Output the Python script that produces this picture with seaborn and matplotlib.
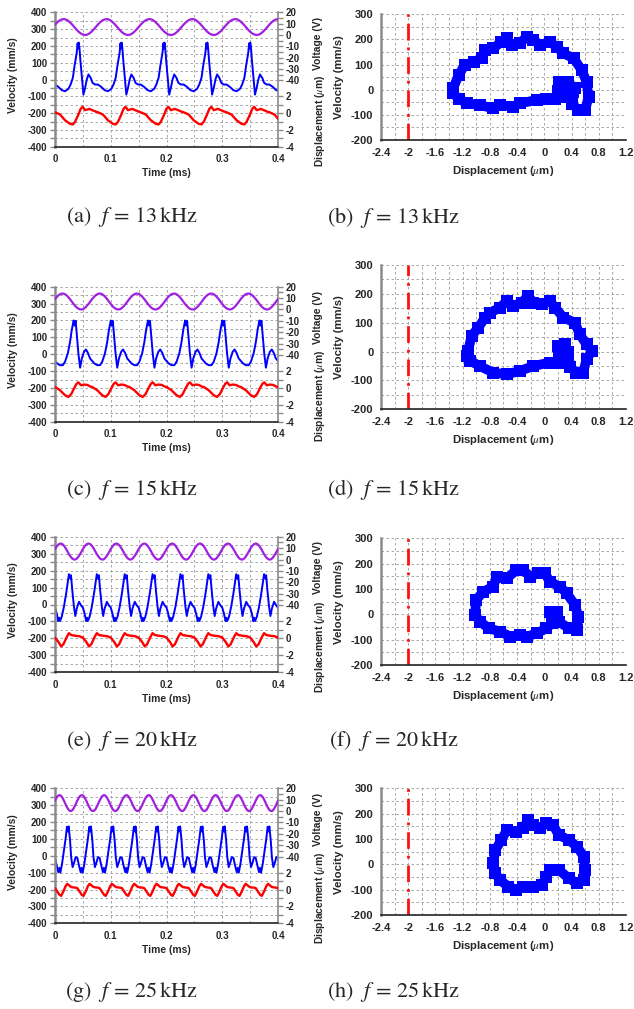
import numpy as np
import matplotlib
matplotlib.use("Agg")
import matplotlib.pyplot as plt
import seaborn as sns
from matplotlib.ticker import MultipleLocator, FixedLocator, FuncFormatter

sns.set_style("white")
plt.rcParams["font.family"] = ["Liberation Sans", "DejaVu Sans"]
plt.rcParams["font.weight"] = "bold"
plt.rcParams["axes.labelweight"] = "bold"
plt.rcParams["axes.unicode_minus"] = False
plt.rcParams["mathtext.fontset"] = "custom"
plt.rcParams["mathtext.rm"] = "STIXGeneral:weight=normal"
plt.rcParams["mathtext.it"] = "STIXGeneral:italic:weight=normal"
plt.rcParams["mathtext.bf"] = "STIXGeneral:weight=bold"

# ---------------- data ----------------
freqs_khz = [13, 15, 20, 25]
panel_letters = [("a", "b"), ("c", "d"), ("e", "f"), ("g", "h")]

# drive voltage over one period (24 equally spaced phase samples), V
volt_cycle = [9.2, 10.8, 12.2, 13.2, 13.8, 14.0, 13.7, 12.9, 11.7, 10.2, 8.5, 6.6,
              4.8, 3.2, 1.8, 0.8, 0.2, 0.0, 0.3, 1.1, 2.3, 3.8, 5.5, 7.4]

# velocity over one period: time (ms) within period, value (mm/s)
vel13_t = [0, 0.006, 0.012, 0.018, 0.024, 0.028, 0.032, 0.035, 0.039, 0.0405, 0.0415,
           0.0425, 0.0437, 0.0454, 0.048, 0.051, 0.054, 0.057, 0.060, 0.064, 0.0675, 0.072]
vel13_v = [-30, -44, -63, -70, -56, -30, 10, 80, 160, 215, 185, 220, 195, 120, 20, -90,
           -50, 0, 30, 10, -20, -30]
vel15_t = [0, 0.004, 0.009, 0.014, 0.018, 0.023, 0.027, 0.030, 0.0334, 0.035, 0.037,
           0.039, 0.042, 0.045, 0.048, 0.052, 0.0555, 0.059, 0.063]
vel15_v = [-40, -55, -65, -65, -45, 5, 73, 142, 200, 170, 198, 122, 4, -80, -26, 14,
           28, 8, -26]
vel20_t = [0, 0.003, 0.006, 0.0075, 0.009, 0.012, 0.016, 0.020, 0.023, 0.025, 0.0275,
           0.0287, 0.031, 0.034, 0.0364, 0.039, 0.043, 0.0466]
vel20_v = [-18, -53, -98, -78, -97, -73, -14, 65, 134, 179, 153, 173, 84, -14, -68,
           -24, 16, -5]
vel25_t = [0, 0.003, 0.006, 0.0078, 0.0096, 0.0125, 0.016, 0.019, 0.0215, 0.0233,
           0.0245, 0.027, 0.029, 0.0316, 0.0346, 0.037]
vel25_v = [-12, -57, -97, -71, -100, -51, 32, 101, 172, 144, 174, 91, -8, -67, -38, -8]

# displacement over one period: time (ms), value (um)
disp13_t = [0, 0.009, 0.018, 0.027, 0.032, 0.036, 0.042, 0.046, 0.0496, 0.054, 0.058,
            0.0615, 0.0687, 0.074]
disp13_v = [0.1, -0.17, -0.85, -1.28, -1.35, -1.04, -0.17, 0.5, 0.75, 0.35, 0.43, 0.5,
            0.3, 0.15]
disp15_t = [0, 0.009, 0.018, 0.024, 0.029, 0.034, 0.039, 0.042, 0.0466, 0.052, 0.058, 0.064]
disp15_v = [0.12, -0.27, -0.86, -1.06, -0.74, -0.07, 0.52, 0.66, 0.32, 0.4, 0.36, 0.15]
disp20_t = [0, 0.006, 0.011, 0.015, 0.021, 0.025, 0.029, 0.033, 0.038, 0.044]
disp20_v = [0.1, -0.4, -0.95, -0.7, 0.15, 0.62, 0.4, 0.35, 0.3, 0.25]
disp25_t = [0, 0.004, 0.008, 0.011, 0.015, 0.019, 0.022, 0.0257, 0.029, 0.033, 0.037]
disp25_v = [0.17, -0.23, -0.62, -0.75, -0.23, 0.4, 0.68, 0.48, 0.3, 0.25, 0.22]

# phase portraits: displacement (um) vs velocity (mm/s)
loop13_d = [-1.34, -1.26, -1.17, -1.04, -0.92, -0.87, -0.75, -0.63, -0.55, -0.48, -0.36,
            -0.26, -0.16, -0.06, 0.08, 0.18, 0.28, 0.43, 0.55, 0.62, 0.65, 0.60, 0.50,
            0.40, 0.42, 0.45, 0.35, 0.22, 0.20, 0.30, 0.25, 0.15, 0.03, -0.11, -0.36,
            -0.46, -0.65, -0.75, -0.95, -1.14, -1.26, -1.34, -1.34]
loop13_v = [5, 58, 98, 111, 125, 158, 164, 191, 204, 178, 184, 211, 198, 178, 191, 171,
            145, 125, 78, 32, -28, -81, -81, -55, -10, 5, 30, 30, -5, 0, -30, -35, -35,
            -41, -54, -68, -61, -74, -61, -54, -35, -15, 5]
loop15_d = [-1.12, -1.07, -0.97, -0.87, -0.80, -0.65, -0.55, -0.46, -0.33, -0.24, -0.16,
            -0.04, 0.08, 0.16, 0.28, 0.45, 0.52, 0.62, 0.70, 0.62, 0.57, 0.47, 0.38,
            0.35, 0.30, 0.20, 0.22, 0.30, 0.25, 0.08, -0.16, -0.36, -0.55, -0.75, -0.95,
            -1.09, -1.14, -1.12]
loop15_v = [2, 54, 83, 118, 135, 152, 176, 158, 170, 193, 170, 164, 176, 152, 118, 100,
            60, 25, 2, -27, -73, -73, -55, 0, 25, 20, -20, -10, -40, -38, -50, -67, -79,
            -73, -50, -32, -15, 2]
loop20_d = [-1.02, -1.0, -0.9, -0.75, -0.7, -0.55, -0.41, -0.31, -0.21, -0.09, 0.01, 0.08,
            0.23, 0.33, 0.45, 0.50, 0.48, 0.36, 0.21, 0.13, 0.08, 0.18, 0.12, 0.03, -0.11,
            -0.26, -0.36, -0.5, -0.65, -0.82, -0.94, -1.02]
loop20_v = [-3, 57, 89, 109, 149, 142, 175, 175, 149, 162, 162, 129, 109, 83, 37, -9, -62,
            -55, -29, -9, 11, 11, -35, -55, -75, -88, -82, -88, -68, -55, -29, -3]
loop25_d = [-0.75, -0.72, -0.63, -0.55, -0.41, -0.31, -0.24, -0.16, -0.06, 0.03, 0.13,
            0.21, 0.36, 0.48, 0.58, 0.60, 0.58, 0.48, 0.36, 0.21, 0.08, 0.03, -0.04,
            -0.16, -0.31, -0.41, -0.53, -0.65, -0.72, -0.75]
loop25_v = [4, 57, 96, 136, 129, 142, 175, 155, 142, 162, 155, 116, 96, 70, 30, -22, -62,
            -75, -55, -22, -22, -49, -82, -88, -88, -101, -88, -62, -36, 4]

limit_disp = -2.0  # red dash-dot limit line (um)

vel_sets = [(vel13_t, vel13_v), (vel15_t, vel15_v), (vel20_t, vel20_v), (vel25_t, vel25_v)]
disp_sets = [(disp13_t, disp13_v), (disp15_t, disp15_v), (disp20_t, disp20_v), (disp25_t, disp25_v)]
loop_sets = [(loop13_d, loop13_v), (loop15_d, loop15_v), (loop20_d, loop20_v), (loop25_d, loop25_v)]

# ---------------- layout ----------------
W, H = 634, 1009
fig = plt.figure(figsize=(W / 100, H / 100), dpi=100)


def rect(l, r, t, b):
    return [l / W, 1 - b / H, (r - l) / W, (b - t) / H]


left_boxes = [(12.3, 146.7), (286.7, 421.7), (536.7, 672.3), (788.3, 923.3)]
right_boxes = [(14.3, 140.0), (265.0, 409.3), (538.3, 665.0), (788.3, 915.0)]
caption_y = [217, 490, 741, 992]

GRID = dict(color="#9a9a9a", linestyle=(0, (3, 3)), linewidth=0.6)
SPINE_GREY = "#8a8a8a"


def tile(t, v, T, tmax=0.4):
    n = int(np.ceil(tmax / T)) + 1
    tt = np.concatenate([np.asarray(t) + k * T for k in range(n)])
    vv = np.tile(np.asarray(v, float), n)
    return tt, vv


for i, f in enumerate(freqs_khz):
    T = 1.0 / f  # ms
    # ---------- left panel: time signals ----------
    ax = fig.add_axes(rect(55, 278, *left_boxes[i]))
    axv = ax.twinx()
    axd = ax.twinx()
    vt, vv = tile(*vel_sets[i], T)
    dt, dv = tile(*disp_sets[i], T)
    ph = np.arange(len(volt_cycle)) / len(volt_cycle) * T
    ut, uv = tile(ph, volt_cycle, T)
    sns.lineplot(x=vt, y=vv, ax=ax, color="#0000ff", linewidth=1.4, estimator=None, sort=False)
    sns.lineplot(x=ut, y=uv, ax=axv, color="#a020e0", linewidth=1.6, estimator=None, sort=False)
    sns.lineplot(x=dt, y=dv, ax=axd, color="#ff0000", linewidth=1.7, estimator=None, sort=False)

    ax.set_xlim(0, 0.4)
    ax.set_ylim(-400, 400)
    axv.set_ylim(-98.5, 20)
    axd.set_ylim(-4, 12)

    ax.xaxis.set_major_locator(MultipleLocator(0.1))
    ax.xaxis.set_minor_locator(MultipleLocator(0.05))
    ax.yaxis.set_major_locator(MultipleLocator(100))
    ax.yaxis.set_minor_locator(MultipleLocator(50))
    ax.xaxis.set_major_formatter(FuncFormatter(lambda x, p: f"{round(x, 2) + 0.0:g}"))
    ax.grid(True, which="both", **GRID)
    ax.set_axisbelow(True)

    axv.yaxis.set_major_locator(FixedLocator([20, 10, 0, -10, -20, -30, -40]))
    axv.yaxis.set_minor_locator(FixedLocator([15, 5, -5, -15, -25, -35]))
    axd.yaxis.set_major_locator(FixedLocator([2, 0, -2, -4]))
    axd.yaxis.set_minor_locator(FixedLocator([1, -1, -3]))

    for a in (ax, axv, axd):
        a.tick_params(axis="both", which="both", direction="out", length=3.5, width=1,
                      color=SPINE_GREY, labelsize=7, pad=2)
    for a in (axv, axd):
        for s in a.spines.values():
            s.set_visible(False)
    ax.spines["top"].set_visible(False)
    ax.spines["left"].set_color(SPINE_GREY)
    ax.spines["left"].set_linewidth(1.8)
    ax.spines["right"].set_color(SPINE_GREY)
    ax.spines["right"].set_linewidth(1.2)
    ax.spines["bottom"].set_color("#222222")
    ax.spines["bottom"].set_linewidth(1.2)
    ax.tick_params(axis="x", which="both", color="#222222")

    ax.set_xlabel("Time (ms)", fontsize=7.4)
    ax.xaxis.set_label_coords(0.5, -0.16)
    ax.set_ylabel("Velocity (mm/s)", fontsize=7.4)
    ax.yaxis.set_label_coords(-0.165, 0.53)
    axv.set_ylabel("Voltage (V)", fontsize=7.4, rotation=90)
    axv.yaxis.set_label_coords(1.155, 0.77)
    axd.set_ylabel(r"Displacement ($\mu$m)", fontsize=7.4, rotation=90)
    axd.yaxis.set_label_coords(1.155, 0.19)

    # ---------- right panel: phase portrait ----------
    bx = fig.add_axes(rect(381, 626, *right_boxes[i]))
    ld, lv = loop_sets[i]
    sns.lineplot(x=ld, y=lv, ax=bx, color="#0000ff", linewidth=7, marker="s",
                 markersize=8.5, markeredgewidth=0, estimator=None, sort=False)
    bx.axvline(limit_disp, color="#ff1010", linewidth=2.0, linestyle=(0, (6, 2.5, 1, 2.5)))
    bx.set_xlim(-2.4, 1.2)
    bx.set_ylim(-200, 300)
    bx.xaxis.set_major_locator(MultipleLocator(0.4))
    bx.xaxis.set_minor_locator(MultipleLocator(0.2))
    bx.yaxis.set_major_locator(MultipleLocator(100))
    bx.yaxis.set_minor_locator(MultipleLocator(50))
    bx.xaxis.set_major_formatter(FuncFormatter(lambda x, p: f"{round(x, 1) + 0.0:g}"))
    bx.grid(True, which="both", **GRID)
    bx.set_axisbelow(True)
    bx.spines["top"].set_visible(False)
    bx.spines["right"].set_visible(False)
    bx.spines["left"].set_color(SPINE_GREY)
    bx.spines["left"].set_linewidth(1.8)
    bx.spines["bottom"].set_color("#222222")
    bx.spines["bottom"].set_linewidth(1.2)
    bx.tick_params(axis="both", which="both", direction="out", length=3.5, width=1,
                   color=SPINE_GREY, labelsize=8, pad=2)
    bx.tick_params(axis="x", which="both", color="#222222")
    bx.set_xlabel(r"Displacement ($\mu$m)", fontsize=8.2)
    bx.set_ylabel("Velocity (mm/s)", fontsize=8.2)
    bx.xaxis.set_label_coords(0.5, -0.19 * 126 / (right_boxes[i][1] - right_boxes[i][0]))
    bx.yaxis.set_label_coords(-0.15, 0.5)

    # ---------- captions ----------
    la, lb = panel_letters[i]
    fig.text(132 / W, 1 - caption_y[i] / H, rf"$\mathrm{{({la})}}\ \ f\,=\,{f}\,\mathrm{{kHz}}$",
             fontsize=16, weight="normal", ha="center", va="center")
    fig.text(394 / W, 1 - caption_y[i] / H, rf"$\mathrm{{({lb})}}\ \ f\,=\,{f}\,\mathrm{{kHz}}$",
             fontsize=16, weight="normal", ha="center", va="center")

fig.savefig("out.png", dpi=100)
